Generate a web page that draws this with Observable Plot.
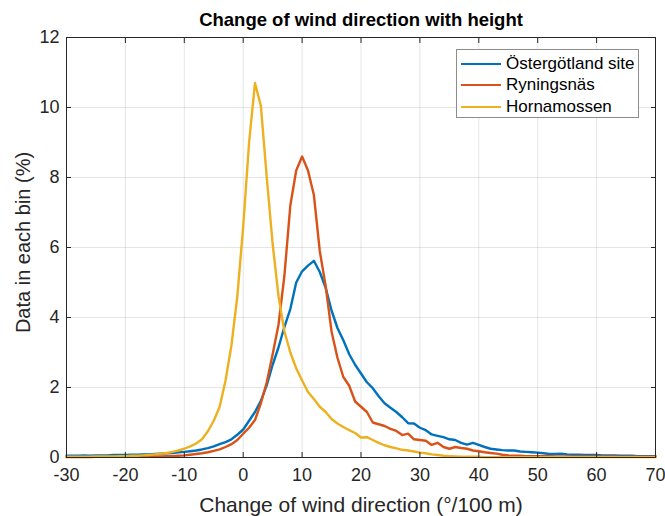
<!DOCTYPE html>
<html>
<head>
<meta charset="utf-8">
<script src="https://cdn.jsdelivr.net/npm/d3@7"></script>
<script src="https://cdn.jsdelivr.net/npm/@observablehq/plot@0.6"></script>
<style>
  body { margin: 0; background: #fff; }
  #chart { position: relative; width: 665px; height: 516px; font-family: "Liberation Sans", Arial, sans-serif; }
  #legend { position: absolute; left: 456px; top: 49px; width: 183px; height: 69px; border: 1px solid #8c8c8c; background: #fff; box-sizing: border-box; padding-top: 3px; }
  .row { display: flex; align-items: center; height: 21.5px; font-size: 17px; color: #000; }
  .sw { width: 40px; height: 0; border-top: 2.5px solid; margin: 0 5px 0 4px; }
</style>
</head>
<body>
<div id="chart"><div id="legend"></div></div>
<script>
// bin centres (°/100 m)
const binStart = -30, binEnd = 70;
const xTicks = [-30, -20, -10, 0, 10, 20, 30, 40, 50, 60, 70];
const yTicks = [0, 2, 4, 6, 8, 10, 12];
const seriesNames = ["Östergötland site", "Ryningsnäs", "Hornamossen"];
const seriesColors = ["#0072BD", "#D95319", "#EDB120"];

// Data in each bin (%), x = -30 ... 70
const oster = [
  0.05,0.05,0.05,0.06,0.05,0.06,0.06,0.06,0.07,0.07,
  0.07,0.08,0.08,0.09,0.09,0.10,0.11,0.12,0.13,0.15,
  0.16,0.18,0.20,0.23,0.27,0.32,0.38,0.44,0.52,0.65,
  0.80,1.05,1.30,1.62,2.07,2.65,3.15,3.73,4.24,5.00,
  5.32,5.48,5.62,5.30,4.85,4.20,3.70,3.35,2.95,2.65,
  2.40,2.15,1.98,1.75,1.55,1.42,1.30,1.15,0.98,0.97,
  0.85,0.78,0.66,0.62,0.58,0.52,0.50,0.42,0.37,0.42,
  0.36,0.30,0.25,0.23,0.21,0.20,0.20,0.17,0.16,0.15,
  0.14,0.12,0.10,0.10,0.11,0.09,0.08,0.08,0.07,0.07,
  0.07,0.06,0.06,0.06,0.05,0.05,0.05,0.04,0.04,0.04,0.04
];
const ryning = [
  0.01,0.01,0.01,0.01,0.01,0.02,0.02,0.02,0.02,0.02,
  0.02,0.02,0.03,0.03,0.03,0.03,0.03,0.04,0.04,0.05,
  0.06,0.08,0.10,0.12,0.15,0.19,0.23,0.30,0.38,0.50,
  0.68,0.85,1.07,1.55,2.15,2.95,3.80,5.20,7.20,8.20,
  8.60,8.20,7.50,5.90,4.90,3.60,2.85,2.30,2.05,1.60,
  1.45,1.30,1.00,0.95,0.90,0.82,0.76,0.64,0.68,0.52,
  0.50,0.48,0.36,0.42,0.30,0.25,0.30,0.27,0.25,0.20,
  0.18,0.15,0.13,0.11,0.08,0.06,0.05,0.05,0.04,0.04,
  0.04,0.04,0.04,0.03,0.03,0.03,0.03,0.03,0.03,0.03,
  0.03,0.03,0.03,0.03,0.02,0.02,0.02,0.02,0.02,0.02,0.02
];
const horna = [
  0.02,0.02,0.02,0.02,0.02,0.03,0.03,0.03,0.03,0.04,
  0.04,0.05,0.05,0.06,0.07,0.09,0.11,0.13,0.16,0.20,
  0.25,0.32,0.40,0.52,0.75,1.05,1.45,2.20,3.20,4.60,
  6.60,9.00,10.70,10.05,8.00,6.10,4.60,3.60,3.00,2.55,
  2.20,1.87,1.67,1.45,1.30,1.10,0.97,0.87,0.78,0.70,
  0.57,0.58,0.50,0.42,0.35,0.30,0.26,0.22,0.20,0.17,
  0.14,0.12,0.09,0.07,0.05,0.04,0.03,0.02,0.02,0.02,
  0.02,0.01,0.01,0.01,0.01,0.01,0.01,0.01,0.01,0.01,
  0.01,0.01,0.01,0.01,0.01,0.01,0.01,0.01,0.01,0.01,
  0.01,0.01,0.01,0.01,0.01,0.01,0.01,0.01,0.01,0.01,0.01
];

const bins = d3.range(binStart, binEnd + 1);
const seriesValues = [oster, ryning, horna];
const data = seriesValues.flatMap((vals, k) =>
  vals.map((v, i) => ({x: bins[i], y: v, s: seriesNames[k]})));

const axisColor = "#262626";
const font = "Liberation Sans, Arial, sans-serif";
const plainFormat = d => String(d);

const plot = Plot.plot({
  width: 665,
  height: 516,
  marginLeft: 66,
  marginRight: 10,
  marginTop: 37,
  marginBottom: 59,
  style: {fontFamily: font, fontSize: "18px", color: axisColor, background: "#fff"},
  x: {domain: [binStart, binEnd], label: null},
  y: {domain: [0, 12], label: null},
  color: {domain: seriesNames, range: seriesColors},
  marks: [
    Plot.gridX(xTicks, {stroke: "#000", strokeOpacity: 0.1, strokeWidth: 1}),
    Plot.gridY(yTicks, {stroke: "#000", strokeOpacity: 0.1, strokeWidth: 1}),
    Plot.line(data, {x: "x", y: "y", z: "s", stroke: "s", strokeWidth: 2.4}),
    Plot.frame({stroke: axisColor, strokeWidth: 1}),
    Plot.axisX(xTicks, {anchor: "bottom", tickSize: -5, tickPadding: 16, fontSize: 18, tickFormat: plainFormat, label: null, stroke: axisColor}),
    Plot.axisX(xTicks, {anchor: "top", tickSize: -5, tickFormat: () => "", label: null, stroke: axisColor}),
    Plot.axisY(yTicks, {anchor: "left", tickSize: -5, tickPadding: 12, fontSize: 18, tickFormat: plainFormat, label: null, stroke: axisColor}),
    Plot.axisY(yTicks, {anchor: "right", tickSize: -5, tickFormat: () => "", label: null, stroke: axisColor}),
    Plot.text(["Change of wind direction with height"], {frameAnchor: "top", dy: -17, fontSize: 18.5, fontWeight: "bold", fill: "#000", lineAnchor: "middle"}),
    Plot.text(["Change of wind direction (°/100 m)"], {frameAnchor: "bottom", dy: 48, fontSize: 21, fill: axisColor, lineAnchor: "middle"}),
    Plot.text(["Data in each bin (%)"], {frameAnchor: "left", dx: -43, dy: -5, rotate: -90, fontSize: 20, fill: axisColor, textAnchor: "middle", lineAnchor: "middle"})
  ]
});

const chart = document.getElementById("chart");
chart.insertBefore(plot, chart.firstChild);

const legend = document.getElementById("legend");
seriesNames.forEach((name, k) => {
  const row = document.createElement("div");
  row.className = "row";
  const sw = document.createElement("span");
  sw.className = "sw";
  sw.style.borderTopColor = seriesColors[k];
  const t = document.createElement("span");
  t.textContent = name;
  row.appendChild(sw);
  row.appendChild(t);
  legend.appendChild(row);
});
</script>
</body>
</html>
